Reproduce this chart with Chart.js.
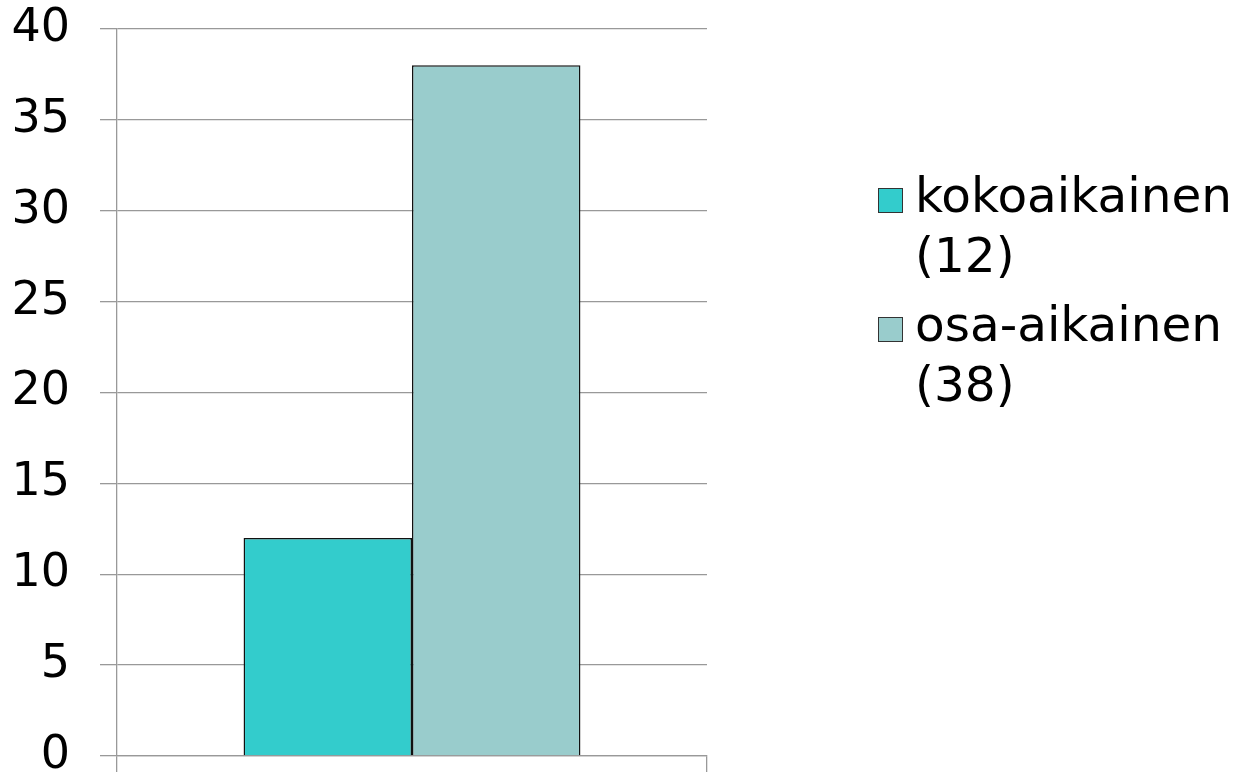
<!DOCTYPE html>
<html>
<head>
<meta charset="utf-8">
<script src="https://cdn.jsdelivr.net/npm/chart.js@4/dist/chart.umd.min.js"></script>
<style>
	body { margin: 0; background: #fff; }
	#wrap { position: relative; width: 1239px; height: 776px; }
	#legend { position: absolute; left: 878px; top: 165px; font-family: "DejaVu Sans", Verdana, sans-serif; font-size: 48.5px; line-height: 60px; color: #000; }
	.item { display: flex; align-items: flex-start; margin-bottom: 9px; }
	.box { width: 23px; height: 23px; border: 1px solid #333; margin-top: 23px; margin-right: 12px; flex: none; }
</style>
</head>
<body>
<div id="wrap">
	<canvas id="chart" width="1239" height="776"></canvas>
	<div id="legend"></div>
</div>
<script>
var categories = [""];
var seriesNames = ["kokoaikainen", "osa-aikainen"];
var seriesCounts = ["(12)", "(38)"];
var kokoaikainen = [12];
var osaAikainen = [38];
var yTicks = [0, 5, 10, 15, 20, 25, 30, 35, 40];

var colors = ["#33CCCC", "#99CCCC"];

var chartdata = {
	labels: categories,
	datasets: [
		{
			label: seriesNames[0] + " " + seriesCounts[0],
			backgroundColor: colors[0],
			borderColor: "#111",
			borderWidth: 1.5,
			data: kokoaikainen
		},
		{
			label: seriesNames[1] + " " + seriesCounts[1],
			backgroundColor: colors[1],
			borderColor: "#111",
			borderWidth: 1.5,
			data: osaAikainen
		}
	]
};

var ctx = document.getElementById("chart");

var barGraph = new Chart(ctx, {
	type: 'bar',
	data: chartdata,
	options: {
		responsive: false,
		animation: false,
		layout: { padding: { top: 29, right: 532, bottom: 0, left: 0 } },
		plugins: {
			legend: { display: false },
			tooltip: { enabled: false }
		},
		datasets: {
			bar: { categoryPercentage: 0.571, barPercentage: 1.0 }
		},
		scales: {
			x: {
				grid: { offset: true, drawOnChartArea: false, color: "#999", lineWidth: 1.3, tickLength: 16 },
				border: { color: "#999", width: 1.3 },
				ticks: { display: false },
				afterFit: function(axis) {
					axis.height = 20;
					axis.paddingLeft = 0;
					axis.paddingRight = 0;
				}
			},
			y: {
				min: 0,
				max: 40,
				afterBuildTicks: function(axis) {
					axis.ticks = yTicks.map(function(v) { return { value: v }; });
				},
				afterFit: function(axis) {
					axis.width = 117;
					axis.paddingTop = 0;
					axis.paddingBottom = 0;
				},
				grid: { color: "#999", lineWidth: 1.3, tickLength: 17 },
				border: { color: "#999", width: 1.3 },
				ticks: {
					color: "#000",
					padding: 30,
					font: { family: "DejaVu Sans", size: 46 }
				}
			}
		}
	}
});

var legend = document.getElementById("legend");
for (var i in seriesNames) {
	var item = document.createElement("div");
	item.className = "item";
	var box = document.createElement("div");
	box.className = "box";
	box.style.background = colors[i];
	var text = document.createElement("div");
	text.innerHTML = seriesNames[i] + "<br>" + seriesCounts[i];
	item.appendChild(box);
	item.appendChild(text);
	legend.appendChild(item);
}
</script>
</body>
</html>
